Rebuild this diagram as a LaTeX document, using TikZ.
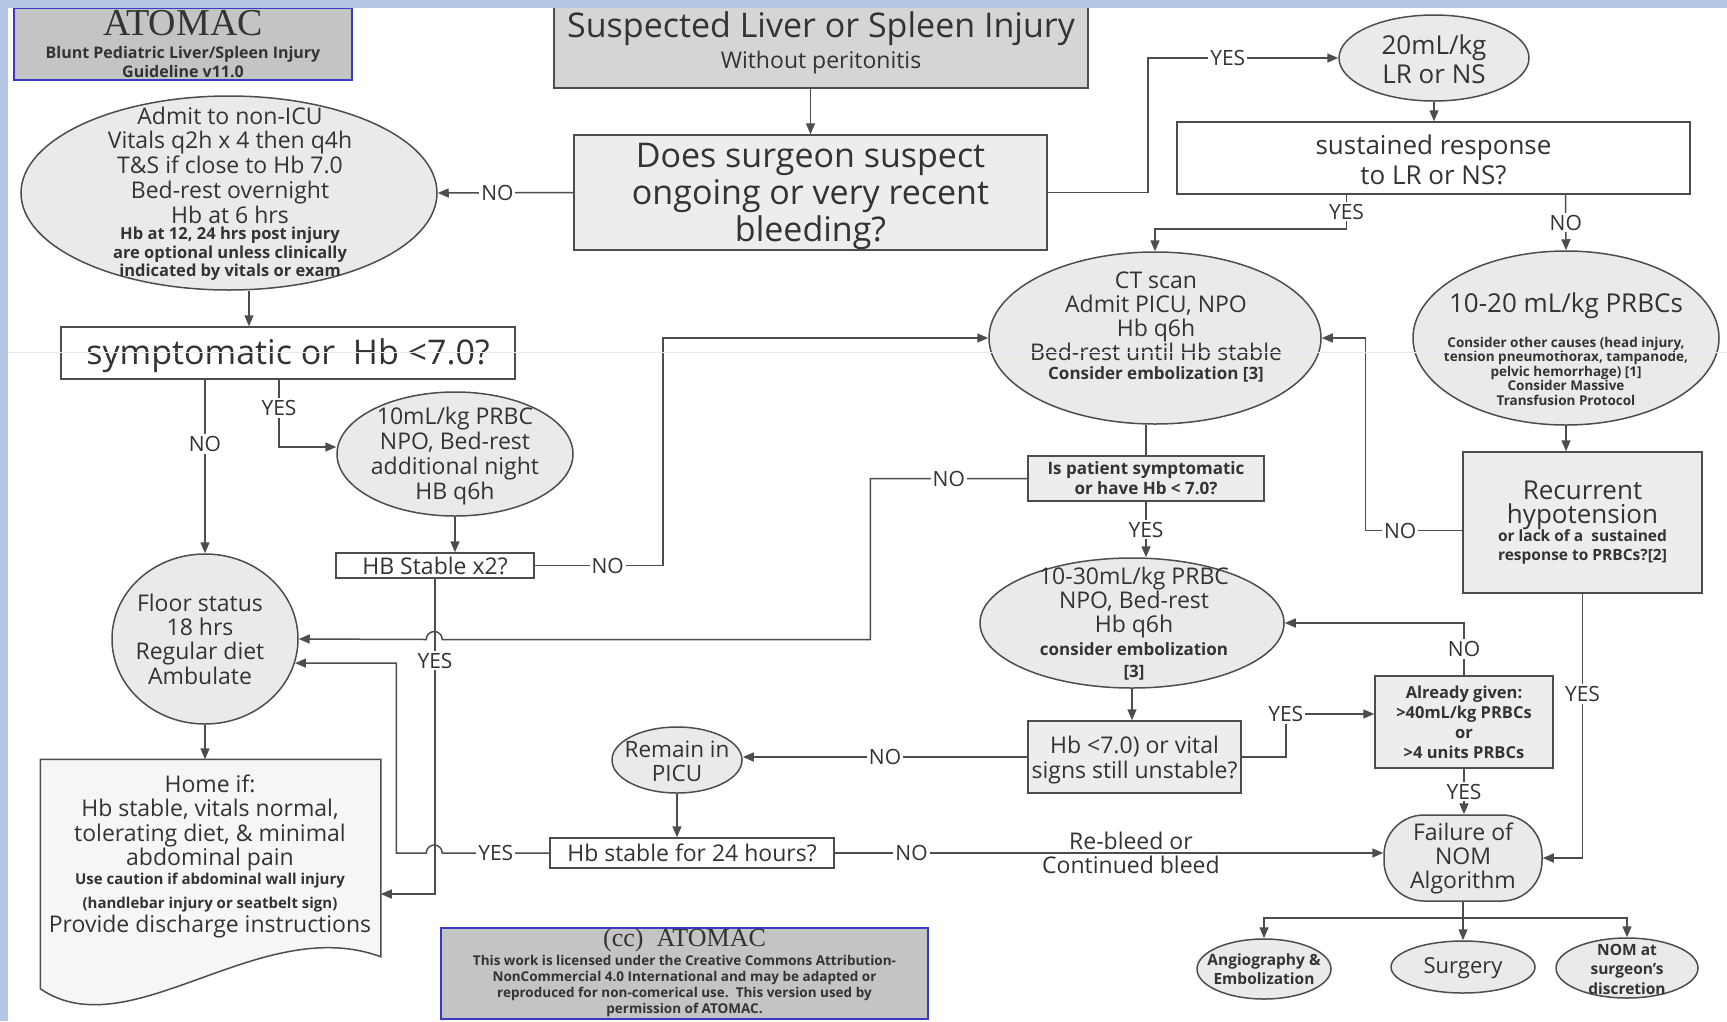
\documentclass[tikz,border=0pt]{standalone}
\usepackage{fontspec}
\setmainfont{Open Sans}
\newfontfamily\titlefont{Liberation Serif}
\usetikzlibrary{shapes.geometric,arrows.meta}
\newcommand{\fsz}[2]{\fontsize{#1}{#2}\selectfont}
\definecolor{ink}{HTML}{333333}
\definecolor{wire}{HTML}{4D4D4D}
\definecolor{ovalgray}{HTML}{EAEAEA}
\definecolor{boxgray}{HTML}{EDEDED}
\definecolor{headgray}{HTML}{D5D5D5}
\definecolor{homegray}{HTML}{F6F6F6}
\definecolor{framegray}{HTML}{C4C4C4}
\definecolor{frameblue}{HTML}{3A3AC4}
\definecolor{bandblue}{HTML}{B4C7E7}
\definecolor{ruleblue}{HTML}{E6EBF6}

\begin{document}
\begin{tikzpicture}[x=1pt,y=-1pt,line width=1.5pt,color=wire,text=ink,
    >={Triangle[length=11pt,width=9pt]},
    oval/.style={ellipse,draw,fill=ovalgray,inner sep=0pt},
    box/.style={rectangle,draw,fill=white,inner sep=0pt,align=center},
    txt/.style={align=center,inner sep=0pt},
    lbl/.style={fill=white,inner sep=2pt,font=\fsz{21}{21}},
    frame/.style={rectangle,draw=frameblue,fill=framegray,inner sep=0pt}]
    \useasboundingbox (0,0) rectangle (1727,1021);

    \draw (183,44) node [frame,minimum width=338pt,minimum height=72pt] (title) {};
    \draw (183,23) node [txt,font=\titlefont\fsz{38}{38}] (titlename) {ATOMAC};
    \draw (183,62) node [txt,font={\bfseries\fsz{16}{19}}] (titlesub) {Blunt Pediatric Liver/Spleen Injury\\Guideline v11.0};

    \draw (821,47) node [box,fill=headgray,minimum width=534pt,minimum height=82pt] (sus) {};
    \draw (821,29) node [txt,font=\fsz{34}{34}] (sustitle) {Suspected Liver or Spleen Injury};
    \draw (821,63) node [txt,font=\fsz{23}{23}] (susnote) {Without peritonitis};
    \draw (810.5,192.5) node [box,fill=boxgray,minimum width=473pt,minimum height=115pt] (does) {};
    \draw (810.5,196.5) node [txt,font=\fsz{34}{37}] (doestext) {Does surgeon suspect\\ongoing or very recent\\bleeding?};

    \draw (229,193) node [oval,minimum width=416pt,minimum height=194pt] (admit) {};
    \draw (230,165) node [txt,font=\fsz{23}{24.75}] (admittext) {Admit to non-ICU\\Vitals q2h x 4 then q4h\\T\&S if close to Hb 7.0\\Bed-rest overnight\\Hb at 6 hrs};
    \draw (230,254) node [txt,font={\bfseries\fsz{16.5}{18.5}}] (admitnote) {Hb at 12, 24 hrs post injury\\are optional unless clinically\\indicated by vitals or exam};
    \draw (288,353) node [box,minimum width=454pt,minimum height=52pt] (symp) {};
    \draw (288,356) node [txt,font=\fsz{34}{34}] (symptext) {symptomatic or\ \ Hb <7.0?};
    \draw (455,454) node [oval,minimum width=236pt,minimum height=124pt] (tenml) {};
    \draw (455,456) node [txt,font=\fsz{23}{24.8}] (tenmltext) {10mL/kg PRBC\\NPO, Bed-rest\\additional night\\HB q6h};
    \draw (435,565.5) node [box,minimum width=198pt,minimum height=25pt,font=\fsz{23}{23}] (hbstab) {HB Stable x2?};
    \draw (205,639) node [oval,minimum width=186pt,minimum height=170pt] (floor) {};
    \draw (200,639) node [txt,font=\fsz{23}{24.3}] (floortext) {Floor status\\18 hrs\\Regular diet\\Ambulate};

    \draw (210.5,874) node [minimum width=339pt,minimum height=228pt,inner sep=0pt] (home) {};
    \draw[fill=homegray] (home.north west) -- (home.north east) -- ([yshift=32pt]home.south east)
        .. controls (260,912) and (130,1050) .. (home.south west) -- cycle;
    \draw (210,823) node [txt,font=\fsz{23}{24.3}] (hometext) {Home if:\\Hb stable, vitals normal,\\tolerating diet, \& minimal\\abdominal pain};
    \draw (210,893) node [txt,font={\bfseries\fsz{15}{24}}] (homenote) {Use caution if abdominal wall injury\\(handlebar injury or seatbelt sign)};
    \draw (210,927) node [txt,font=\fsz{23}{23}] (homeend) {Provide discharge instructions};

    \draw (677,760) node [oval,minimum width=130pt,minimum height=66pt] (remain) {};
    \draw (677,761) node [txt,font=\fsz{22.5}{24}] (remaintext) {Remain in\\PICU};
    \draw (692,853) node [box,minimum width=284pt,minimum height=30pt,font=\fsz{23}{23}] (hb24) {Hb stable for 24 hours?};
    \draw (684.5,973.5) node [frame,minimum width=487pt,minimum height=91pt] (license) {};
    \draw (684.5,940) node [txt,font=\titlefont\fsz{26}{26}] (licensename) {(cc)\ \ ATOMAC};
    \draw (684.5,986) node [txt,font={\bfseries\fsz{13.5}{16.3}}] (licensetext) {This work is licensed under the Creative Commons Attribution-\\NonCommercial 4.0 International and may be adapted or\\reproduced for non-comerical use.\ \ This version used by\\permission of ATOMAC.};

    \draw (1434,58) node [oval,minimum width=190pt,minimum height=86pt] (ml20) {};
    \draw (1434,59) node [txt,font=\fsz{26}{29}] (ml20text) {20mL/kg\\LR or NS};
    \draw (1433.5,158) node [box,minimum width=513pt,minimum height=72pt] (sust) {};
    \draw (1433.5,160) node [txt,font=\fsz{26}{30}] (susttext) {sustained response\\to LR or NS?};
    \draw (1155,338) node [oval,minimum width=332pt,minimum height=172pt] (ct) {};
    \draw (1156,316) node [txt,font=\fsz{23}{24}] (cttext) {CT scan\\Admit PICU, NPO\\Hb q6h\\Bed-rest until Hb stable};
    \draw (1156,374) node [txt,font={\bfseries\fsz{17}{17}}] (ctnote) {Consider embolization [3]};
    \draw (1566,338) node [oval,minimum width=306pt,minimum height=174pt] (rbc) {};
    \draw (1566,306) node [txt,font=\fsz{26}{26}] (rbctext) {10-20 mL/kg PRBCs};
    \draw (1566,371) node [txt,font={\bfseries\fsz{13.5}{14.5}}] (rbcnote) {Consider other causes (head injury,\\tension pneumothorax, tampanode,\\pelvic hemorrhage) [1]\\Consider Massive\\Transfusion Protocol};
    \draw (1582.5,522.5) node [box,fill=boxgray,minimum width=239pt,minimum height=141pt] (rec) {};
    \draw (1582.5,505) node [txt,font=\fsz{26}{24}] (rectext) {Recurrent\\hypotension};
    \draw (1582.5,547) node [txt,font={\bfseries\fsz{15.5}{19}}] (recnote) {or lack of a\ \ sustained\\response to PRBCs?[2]};
    \draw (1146,478.5) node [box,fill=boxgray,minimum width=236pt,minimum height=45pt,font={\bfseries\fsz{17}{20}}] (ispat) {Is patient symptomatic\\or have Hb < 7.0?};
    \draw (1132,623) node [oval,minimum width=304pt,minimum height=130pt] (tenthirty) {};
    \draw (1134,603) node [txt,font=\fsz{23}{24}] (tenthirtytext) {10-30mL/kg PRBC\\NPO, Bed-rest\\Hb q6h};
    \draw (1134,661) node [txt,font={\bfseries\fsz{17}{22}}] (tenthirtynote) {consider embolization\\{[3]}};
    \draw (1134.5,757) node [box,fill=boxgray,minimum width=213pt,minimum height=72pt] (hbvital) {};
    \draw (1134.5,760) node [txt,font=\fsz{23}{25}] (hbvitaltext) {Hb <7.0) or vital\\signs still unstable?};
    \draw (1464,722) node [box,fill=boxgray,minimum width=178pt,minimum height=92pt,font={\bfseries\fsz{16.5}{20}}] (already) {Already given:\\>40mL/kg PRBCs\\or\\>4 units PRBCs};
    \draw (1463,858) node [rectangle,draw,fill=ovalgray,rounded corners=40pt,minimum width=158pt,minimum height=86pt] (fail) {};
    \draw (1463,858) node [txt,font=\fsz{23}{24}] (failtext) {Failure of\\NOM\\Algorithm};
    \draw (1264,969) node [oval,minimum width=134pt,minimum height=60pt] (angio) {};
    \draw (1264,969) node [txt,font={\bfseries\fsz{15.5}{19}}] (angiotext) {Angiography \&\\Embolization};
    \draw (1463,967) node [oval,minimum width=144pt,minimum height=52pt] (surg) {};
    \draw (1463,968) node [txt,font=\fsz{22}{22}] (surgtext) {Surgery};
    \draw (1627,968) node [oval,minimum width=142pt,minimum height=60pt] (nomat) {};
    \draw (1627,969) node [txt,font={\bfseries\fsz{15.5}{19.5}}] (nomattext) {NOM at\\surgeon's\\discretion};

    \path[->] (does.north |- sus.south) edge (does.north)
        (does.west) edge node[lbl,pos=0.56] {NO} (admit.east)
        (ml20.south) edge (ml20.south |- sust.north)
        (rbc.south) edge (rbc.south |- rec.north)
        (ispat.south) edge node[lbl] {YES} (ispat.south |- tenthirty.north)
        (tenthirty.south) edge (tenthirty.south |- hbvital.north)
        (hbvital.west) edge node[lbl] {NO} (hbvital.west -| remain.east)
        (already.south) edge node[lbl] {YES} (already.south |- fail.north)
        (remain.south) edge (remain.south |- hb24.north)
        ([xshift=20pt]admit.south) edge ([xshift=20pt]admit.south |- symp.north)
        (tenml.south) edge (tenml.south |- hbstab.north)
        (floor.south) edge (floor.south |- home.north);
    \draw[->] (does.east) -- ++(100,0) |- node[lbl,pos=0.71] {YES} (ml20.west);
    \draw[->] ([xshift=-87pt]sust.south) -- node[lbl] {YES} ++(0,34) -| (ct.north);
    \draw[->] ([xshift=132pt]sust.south) -- node[lbl] {NO} (rbc.north);
    \draw[->] ([yshift=-8pt]rec.west) -- node[lbl,pos=0.64] {NO} ++(-97,0) |- (ct.east);
    \draw[->] (rec.south) |- node[lbl,pos=0.19] {YES} (fail.east);
    \draw (ispat.north |- ct.south) -- (ispat.north);
    \draw[->] (ispat.west) -- node[lbl] {NO} ++(-157,0) -- ++(0,161) -- ++(-428,0)
        arc[start angle=0,end angle=180,radius=8pt] -- (floor.east);
    \draw[->] (hbvital.east) -- ++(44,0) |- node[lbl] {YES} ([yshift=8pt]already.west);
    \draw[->] (already.north) |- node[lbl,pos=0.25] {NO} (tenthirty.east);
    \draw[->] (hb24.east) -- node[lbl,pos=0.14] {NO}
        node[txt,pos=0.54,font=\fsz{23}{24}] (rebleed) {Re-bleed or\\Continued bleed} (hb24.east -| fail.west);
    \draw (fail.south) -- ++(0,16) coordinate (fork);
    \draw[->] (fork) -| (angio.north);
    \draw[->] (fork) -- (surg.north);
    \draw[->] (fork) -| (nomat.north);
    \draw[->] (floor.north |- symp.south) -- node[lbl,pos=0.37] {NO} (floor.north);
    \draw[->] ([xshift=-9pt]symp.south) |- node[lbl,pos=0.21] {YES} ([yshift=7pt]tenml.west);
    \draw[->] (hbstab.east) -- node[lbl,pos=0.57] {NO} ++(128,0) |- (ct.west);
    \draw[->] (hbstab.south) |- node[lbl,pos=0.13] {YES} ([yshift=-20pt]home.east);
    \draw[->] (hb24.west) -- node[lbl] {YES} ++(-107,0)
        arc[start angle=0,end angle=180,radius=8pt] -- ++(-30,0) |- (floor.-15);

    \draw[ruleblue,line width=0.6pt] (8,352) -- (1727,352);
    \fill[bandblue] (0,0) rectangle (1727,8);
    \fill[bandblue] (0,0) rectangle (8,1021);
\end{tikzpicture}
\end{document}
